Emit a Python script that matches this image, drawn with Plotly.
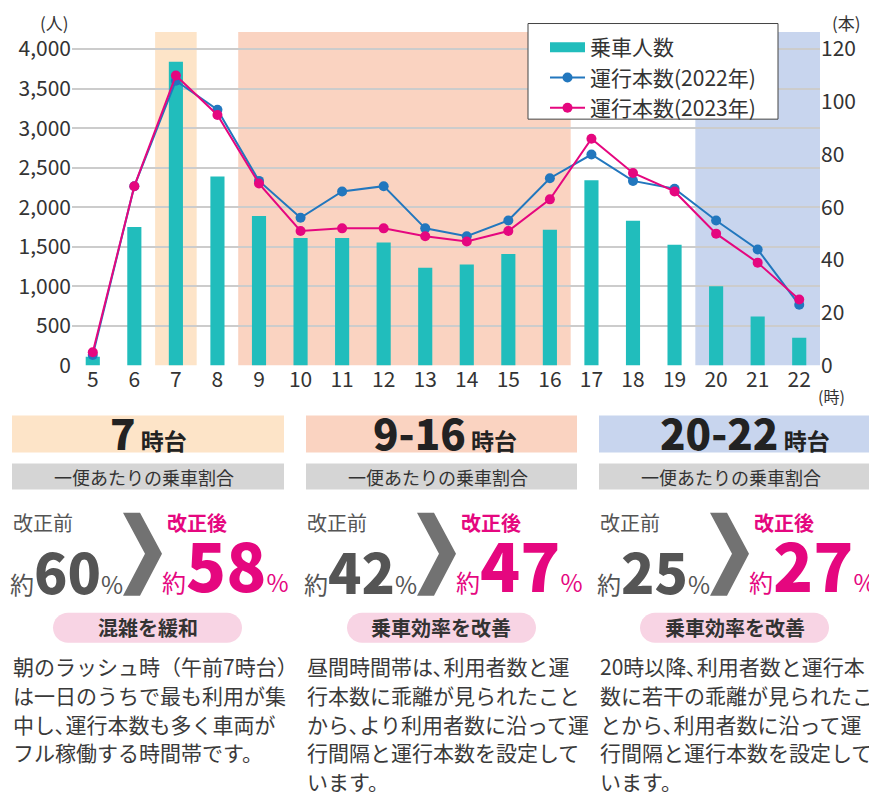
import plotly.graph_objects as go

# ---------------- data ----------------
hours = list(range(5, 23))
hour_labels = [str(h) for h in hours]
riders = [110, 1750, 3840, 2390, 1890, 1610, 1610, 1555, 1235, 1275, 1410, 1715, 2340, 1830, 1525, 1000, 620, 350]
trips_2022 = [4, 68, 108, 97, 70, 56, 66, 68, 52, 49, 55, 71, 80, 70, 67, 55, 44, 23]
trips_2023 = [5, 68, 110, 95, 69, 51, 52, 52, 49, 47, 51, 63, 86, 73, 66, 50, 39, 25]
left_ticks = [0, 500, 1000, 1500, 2000, 2500, 3000, 3500, 4000]
left_tick_labels = ["0", "500", "1,000", "1,500", "2,000", "2,500", "3,000", "3,500", "4,000"]
right_ticks = [0, 20, 40, 60, 80, 100, 120]
right_tick_labels = [str(v) for v in right_ticks]

series_names = ["乗車人数", "運行本数(2022年)", "運行本数(2023年)"]

band_start = [7, 9, 20]
band_end = [7, 16, 22]
band_titles = ["7", "9-16", "20-22"]
ratio_before = [60, 42, 25]
ratio_after = [58, 47, 27]
effect_texts = ["混雑を緩和", "乗車効率を改善", "乗車効率を改善"]
desc_lines = [
    ["朝のラッシュ時（午前7時台）", "は一日のうちで最も利用が集", "中し､運行本数も多く車両が", "フル稼働する時間帯です。"],
    ["昼間時間帯は､利用者数と運", "行本数に乖離が見られたこと", "から､より利用者数に沿って運", "行間隔と運行本数を設定して", "います。"],
    ["20時以降､利用者数と運行本", "数に若干の乖離が見られたこ", "とから､利用者数に沿って運", "行間隔と運行本数を設定して", "います。"],
]

# ---------------- styles ----------------
W, H = 869, 794          # design grid (pixels of the target picture)
FIG_H = 808              # rendered figure height (the capture is squeezed to 794 rows)
FONT = "Noto Sans CJK JP"
TEAL = "#21BDBC"
BLUE = "#2277BE"
PINK = "#E5077F"
BAND_COLORS = ["#FDE4C8", "#FAD3C1", "#C8D5EE"]
GRAY_BAND = "#D5D5D5"
PILL = "#F8D4E4"
CHEV = "#727272"
TXT = "#333333"

# plot-area pixel geometry (design pixels)
PL, PR, PT, PB = 72, 820, 20, 365
Y4000 = 49          # pixel row of the 4,000 / 120 gridline
BAND_TOP = 32       # pixel row where the shaded bands start
Y_TOP_LEFT = 4000 * (PB - PT) / (PB - Y4000)
Y_TOP_RIGHT = 120 * (PB - PT) / (PB - Y4000)
X_MIN, X_MAX = 4.5, 22.5


def X(p):
    return p / W


def Y(p):
    return 1 - p / H


def dx(p):   # design pixel -> x position (layout decorations only)
    return X_MIN + (p - PL) / (PR - PL) * (X_MAX - X_MIN)


def dy(p):   # design pixel -> left-axis position (layout decorations only)
    return (PB - p) / (PB - PT) * Y_TOP_LEFT


fig = go.Figure()
fig.add_trace(go.Bar(x=hours, y=riders, marker=dict(color=TEAL, line=dict(width=0)), width=0.34,
                     name=series_names[0], showlegend=False))
# legend proxy for the bar series (wide rectangle symbol)
fig.add_trace(go.Scatter(x=[None], y=[None], mode="lines", line=dict(color=TEAL, width=13),
                         name=series_names[0], legendgroup="a"))
fig.add_trace(go.Scatter(x=hours, y=trips_2022, yaxis="y2", mode="lines+markers",
                         line=dict(color=BLUE, width=2), marker=dict(size=10, color=BLUE),
                         name=series_names[1], legendgroup="b"))
fig.add_trace(go.Scatter(x=hours, y=trips_2023, yaxis="y2", mode="lines+markers",
                         line=dict(color=PINK, width=2), marker=dict(size=10, color=PINK),
                         name=series_names[2], legendgroup="c"))

shapes = []
# background bands in the chart
for s, e, c in zip(band_start, band_end, BAND_COLORS):
    shapes.append(dict(type="rect", xref="x", yref="y", x0=s - 0.5, x1=e + 0.5,
                       y0=0, y1=dy(BAND_TOP), fillcolor=c, line=dict(width=0), layer="below"))
# legend frame (covers gridlines, below traces)
shapes.append(dict(type="rect", xref="x", yref="y", x0=dx(528), x1=dx(778), y0=dy(119), y1=dy(23.5),
                   fillcolor="white", line=dict(color="#444444", width=1), layer="between"))

annotations = []
annotations.append(dict(x=X(54), y=Y(22), xref="paper", yref="paper", text="(人)", showarrow=False,
                        font=dict(size=17, color=TXT), xanchor="center", yanchor="middle"))
annotations.append(dict(x=X(846), y=Y(22), xref="paper", yref="paper", text="(本)", showarrow=False,
                        font=dict(size=17, color=TXT), xanchor="center", yanchor="middle"))
annotations.append(dict(x=X(831), y=Y(396), xref="paper", yref="paper", text="(時)", showarrow=False,
                        font=dict(size=16, color=TXT), xanchor="center", yanchor="middle"))

panel_left = [12, 306, 599]
panel_right = [284, 577, 869]
header_center = [148, 445, 745]


def pill_path(x0, y0, x1, y1):
    r = (y1 - y0) / 2
    k = 0.5523 * r
    ym = (y0 + y1) / 2
    pts = [
        f"M{X(x0 + r)},{Y(y0)}",
        f"L{X(x1 - r)},{Y(y0)}",
        f"C{X(x1 - r + k)},{Y(y0)} {X(x1)},{Y(ym - k)} {X(x1)},{Y(ym)}",
        f"C{X(x1)},{Y(ym + k)} {X(x1 - r + k)},{Y(y1)} {X(x1 - r)},{Y(y1)}",
        f"L{X(x0 + r)},{Y(y1)}",
        f"C{X(x0 + r - k)},{Y(y1)} {X(x0)},{Y(ym + k)} {X(x0)},{Y(ym)}",
        f"C{X(x0)},{Y(ym - k)} {X(x0 + r - k)},{Y(y0)} {X(x0 + r)},{Y(y0)}",
        "Z",
    ]
    return " ".join(pts)


for i in range(3):
    L = panel_left[i]
    R = panel_right[i]
    # header band
    shapes.append(dict(type="rect", xref="paper", yref="paper", x0=X(L), x1=X(R), y0=Y(452), y1=Y(415),
                       fillcolor=BAND_COLORS[i], line=dict(width=0)))
    annotations.append(dict(x=X(header_center[i]), y=Y(463), xref="paper", yref="paper", showarrow=False,
                            xanchor="center", yanchor="bottom",
                            text=f'<span style="font-size:42px;font-weight:900">{band_titles[i]}</span>'
                                 f'<span style="font-weight:700"> 時台</span>',
                            font=dict(size=23, color="#222222")))
    # gray sub band
    shapes.append(dict(type="rect", xref="paper", yref="paper", x0=X(L), x1=X(R), y0=Y(489), y1=Y(463),
                       fillcolor=GRAY_BAND, line=dict(width=0)))
    annotations.append(dict(x=X(L + 132), y=Y(476), xref="paper", yref="paper", showarrow=False,
                            xanchor="center", yanchor="middle", text="一便あたりの乗車割合",
                            font=dict(size=18, color=TXT)))
    # before / after labels
    annotations.append(dict(x=X(L - 1), y=Y(522), xref="paper", yref="paper", showarrow=False,
                            xanchor="left", yanchor="middle", text="改正前",
                            font=dict(size=20, color="#555555")))
    annotations.append(dict(x=X(L + 153), y=Y(522), xref="paper", yref="paper", showarrow=False,
                            xanchor="left", yanchor="middle", text="<b>改正後</b>",
                            font=dict(size=20, color=PINK)))
    annotations.append(dict(x=X(L - 4), y=Y(611), xref="paper", yref="paper", showarrow=False,
                            xanchor="left", yanchor="bottom",
                            text=f'約<span style="font-size:55px;font-weight:900">{ratio_before[i]}</span>%',
                            font=dict(size=24, color="#555555")))
    annotations.append(dict(x=X(L + 148), y=Y(612), xref="paper", yref="paper", showarrow=False,
                            xanchor="left", yanchor="bottom",
                            text=f'約<span style="font-size:66px;font-weight:900">{ratio_after[i]}</span>%',
                            font=dict(size=24, color=PINK)))
    # chevron
    cx = [L + 111, L + 128, L + 150, L + 128, L + 111, L + 133]
    cy = [512, 512, 553, 595, 595, 553]
    path = "M" + " L".join(f"{X(a)},{Y(b)}" for a, b in zip(cx, cy)) + " Z"
    shapes.append(dict(type="path", xref="paper", yref="paper", path=path, fillcolor=CHEV,
                       line=dict(width=0)))
    # pill
    shapes.append(dict(type="path", xref="paper", yref="paper", path=pill_path(L + 41, 612, L + 230, 642),
                       fillcolor=PILL, line=dict(width=0)))
    annotations.append(dict(x=X(L + 135.5), y=Y(627), xref="paper", yref="paper", showarrow=False,
                            xanchor="center", yanchor="middle", text=f"<b>{effect_texts[i]}</b>",
                            font=dict(size=20, color=TXT)))
    # description lines
    for j, line in enumerate(desc_lines[i]):
        annotations.append(dict(x=X(L - 1), y=Y(665 + 28.8 * j), xref="paper", yref="paper", showarrow=False,
                                xanchor="left", yanchor="middle", text=line,
                                font=dict(size=21, color="#3A3A3A")))

fig.update_layout(
    width=W, height=FIG_H, autosize=False,
    margin=dict(l=0, r=0, t=0, b=0),
    paper_bgcolor="white", plot_bgcolor="rgba(0,0,0,0)",
    font=dict(family=FONT, color=TXT),
    xaxis=dict(domain=[X(PL), X(PR)], range=[X_MIN, X_MAX], tickmode="array", tickvals=hours,
               ticktext=hour_labels, showgrid=False, zeroline=False, showline=False, ticks="",
               tickfont=dict(size=21, color=TXT), fixedrange=True),
    yaxis=dict(domain=[Y(PB), Y(PT)], range=[0, Y_TOP_LEFT], tickmode="array",
               tickvals=left_ticks, ticktext=left_tick_labels, showgrid=True, gridcolor="#CCCCCC",
               gridwidth=1.5, zeroline=False, showline=False, ticks="",
               tickfont=dict(size=21, color=TXT)),
    yaxis2=dict(overlaying="y", side="right", range=[0, Y_TOP_RIGHT], tickmode="array",
                tickvals=right_ticks, ticktext=right_tick_labels, showgrid=False, zeroline=False,
                showline=False, ticks="", tickfont=dict(size=21, color=TXT)),
    legend=dict(x=X(545), y=Y(27), xanchor="left", yanchor="top", bgcolor="rgba(0,0,0,0)",
                borderwidth=0, font=dict(size=21, color=TXT),
                traceorder="normal", tracegroupgap=3, itemwidth=35),
    shapes=shapes,
    annotations=annotations,
    showlegend=True,
)

fig.write_html("out.html", config={"displayModeBar": False, "responsive": False},
               post_script="document.body.style.margin='0';document.body.style.overflow='hidden';")
